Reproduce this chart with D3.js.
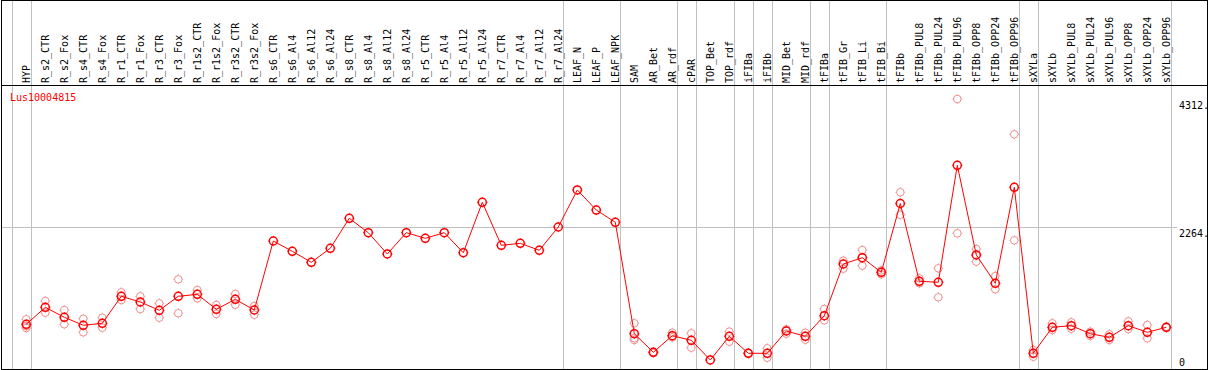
<!DOCTYPE html>
<meta charset="utf-8">
<style>
  body { margin: 0; background: #fff; }
  text { font-family: "DejaVu Sans Mono", monospace; font-size: 10px; }
</style>
<svg width="1209" height="370"></svg>
<script src="https://cdn.jsdelivr.net/npm/d3@7"></script>
<script>

var geneName = "Lus10004815";

var categories = ["HYP","R_s2_CTR","R_s2_Fox","R_s4_CTR","R_s4_Fox","R_r1_CTR","R_r1_Fox","R_r3_CTR","R_r3_Fox",
  "R_r1s2_CTR","R_r1s2_Fox","R_r3s2_CTR","R_r3s2_Fox","R_s6_CTR","R_s6_Al4","R_s6_Al12","R_s6_Al24",
  "R_s8_CTR","R_s8_Al4","R_s8_Al12","R_s8_Al24","R_r5_CTR","R_r5_Al4","R_r5_Al12","R_r5_Al24",
  "R_r7_CTR","R_r7_Al4","R_r7_Al12","R_r7_Al24","LEAF_N","LEAF_P","LEAF_NPK","SAM","AR_Bet","AR_rdf",
  "cPAR","TOP_Bet","TOP_rdf","iFIBa","iFIBb","MID_Bet","MID_rdf","tFIBa","tFIB_Gr","tFIB_Li","tFIB_Bi",
  "tFIBb","tFIBb_PUL8","tFIBb_PUL24","tFIBb_PUL96","tFIBb_OPP8","tFIBb_OPP24","tFIBb_OPP96",
  "sXYLa","sXYLb","sXYLb_PUL8","sXYLb_PUL24","sXYLb_PUL96","sXYLb_OPP8","sXYLb_OPP24","sXYLb_OPP96"];

// mean expression per sample
var means = [714,985,826,698,730,1161,1070,937,1161,
  1193,953,1113,942,2044,1880,1704,1928,
  2407,2177,1837,2177,2087,2177,1857,2662,
  1975,2007,1896,2268,2859,2539,2343,564,267,532,
  458,144,522,251,251,607,522,851,1677,1777,1544,
  2643,1401,1385,3253,1821,1369,2902,
  251,666,692,564,506,692,586,666];

// individual replicates per sample
var replicates = [[794,687,655],[1086,899],[942,714],[803,586],[819,660],[1225,1102],[1161,958],[1049,819],[1432,890],
  [1262,1129],[1022,878],[1198,1027],[1006,867],[],[],[],[],
  [],[],[],[],[],[],[],[],
  [],[],[],[],[],[],[],[730,490,463],[271,256],[580,506],
  [570,340],[],[596,436],[250,255],[331,180],[634,564],[580,468],[958,778],[1730,1602],[1900,1650],[1576,1512],
  [2822,2464],[1448,1369],[1608,1145],[4312,2167],[1916,1714],[1485,1273],[3748,2055],
  [303,196],[730,623],[746,644],[596,527],[554,463],[762,639],[703,490],[660,675]];

// first sample of each group (a separator is drawn before it)
var groupStarts = ["HYP","R_s2_CTR","LEAF_N","SAM","cPAR","TOP_Bet","iFIBa","iFIBb","MID_Bet","tFIBa","tFIB_Gr","tFIBb","sXYLa","sXYLb"];

var yTicks = [0, 2264, 4312];

var svg = d3.select("svg"),
    width = +svg.attr("width"),
    height = +svg.attr("height");

var headerBottom = 85,
    plotBottom = 369,
    step = 19;

var x = d3.scalePoint()
    .domain(categories)
    .range([26.3, 26.3 + step * (categories.length - 1)]);

var y = d3.scaleLinear()
    .domain([0, 4312])
    .range([plotBottom, 99]);

// group separators
var sepX = groupStarts.map(function(c) { return x(c) - step + 4.4; });
sepX.push(x(categories[categories.length - 1]) + 4.4);

svg.append("g")
    .selectAll("line")
    .data(sepX)
  .enter().append("line")
    .attr("x1", function(d) { return Math.round(d) + 0.5; })
    .attr("x2", function(d) { return Math.round(d) + 0.5; })
    .attr("y1", 0)
    .attr("y2", plotBottom)
    .attr("stroke", "#c0c0c0")
    .attr("stroke-width", 1);

// horizontal grid at middle tick
svg.append("line")
    .attr("x1", 1)
    .attr("x2", 1177)
    .attr("y1", Math.round(y(2264)) + 0.5)
    .attr("y2", Math.round(y(2264)) + 0.5)
    .attr("stroke", "#c0c0c0");

// y labels
svg.append("g")
    .selectAll("text")
    .data(yTicks)
  .enter().append("text")
    .attr("x", 1179)
    .attr("y", function(d) { return Math.min(y(d) + 10, 366); })
    .attr("fill", "#000")
    .text(function(d) { return d === 0 ? "0" : d + "."; });

// header labels
svg.append("g")
    .selectAll("text")
    .data(categories)
  .enter().append("text")
    .attr("transform", function(d) { return "translate(" + (x(d) + 3.5) + "," + 83 + ") rotate(-90)"; })
    .attr("fill", "#000")
    .text(function(d) { return d; });

// frame
svg.append("rect")
    .attr("x", 1.5).attr("y", 0.5)
    .attr("width", 1206).attr("height", plotBottom)
    .attr("fill", "none")
    .attr("stroke", "#000");

svg.append("line")
    .attr("x1", 1).attr("x2", 1208)
    .attr("y1", headerBottom + 0.5).attr("y2", headerBottom + 0.5)
    .attr("stroke", "#000");

svg.append("text")
    .attr("x", 10)
    .attr("y", 101)
    .attr("fill", "#ff0000")
    .text(geneName);

function marker(g, color, sw, r) {
  g.append("circle")
      .attr("r", r)
      .attr("fill", "none")
      .attr("stroke", color)
      .attr("stroke-width", sw);
  [[0, -1], [0, 1], [-1, 0], [1, 0]].forEach(function(v) {
    g.append("line")
        .attr("x1", v[0] * r).attr("y1", v[1] * r)
        .attr("x2", v[0] * (r + 1.2)).attr("y2", v[1] * (r + 1.2))
        .attr("stroke", color)
        .attr("stroke-width", 0.8);
  });
}

// replicates
var reps = [];
replicates.forEach(function(r, i) {
  r.forEach(function(v) { reps.push({c: categories[i], v: v}); });
});

svg.append("g")
    .selectAll("g")
    .data(reps)
  .enter().append("g")
    .attr("transform", function(d) { return "translate(" + x(d.c) + "," + y(d.v) + ")"; })
    .each(function() { marker(d3.select(this), "#ee9090", 1, 3.8); });

// mean line
var line = d3.line()
    .x(function(d, i) { return x(categories[i]); })
    .y(function(d) { return y(d); });

svg.append("path")
    .datum(means)
    .attr("d", line)
    .attr("fill", "none")
    .attr("stroke", "#ff0000")
    .attr("stroke-width", 1);

svg.append("g")
    .selectAll("g")
    .data(means)
  .enter().append("g")
    .attr("transform", function(d, i) { return "translate(" + x(categories[i]) + "," + y(d) + ")"; })
    .each(function() { marker(d3.select(this), "#ff0000", 1.5, 4); });

</script>
